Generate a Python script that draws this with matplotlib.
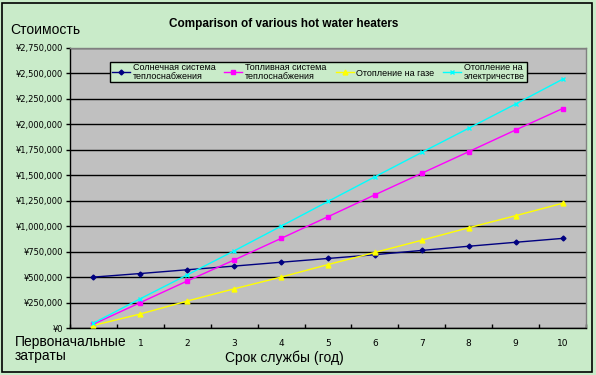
import matplotlib
matplotlib.use("Agg")
import matplotlib.pyplot as plt
from matplotlib.patches import Rectangle
from matplotlib.ticker import FuncFormatter, MultipleLocator, FixedLocator

categories = ["Первоначальные\nзатраты", "1", "2", "3", "4", "5", "6", "7", "8", "9", "10"]
series_names = ["Солнечная система\nтеплоснабжения", "Топливная система\nтеплоснабжения",
                "Отопление на газе", "Отопление на\nэлектричестве"]
solar = [500000, 535000, 572000, 608000, 646000, 683000, 720000, 762000, 803000, 842000, 880000]
fuel = [38000, 250000, 462000, 668000, 880000, 1093000, 1308000, 1520000, 1732000, 1945000, 2155000]
gas = [25000, 138000, 265000, 385000, 500000, 623000, 742000, 862000, 985000, 1103000, 1225000]
electric = [48000, 288000, 522000, 758000, 1000000, 1243000, 1485000, 1725000, 1962000, 2200000, 2443000]

colors = ["#000080", "#FF00FF", "#FFFF00", "#00FFFF"]
markers = ["D", "s", "^", "x"]
msizes = [2.5, 3.5, 3.5, 3]

plt.rcParams['font.family'] = ['Liberation Sans', 'DejaVu Sans']

bg = "#C9EBC9"
fig = plt.figure(figsize=(5.96, 3.75), dpi=100, facecolor=bg)
ax = fig.add_axes([70/596, 1-328/375, 516/596, 280/375])
ax.set_facecolor("#C0C0C0")

x = list(range(len(categories)))
for vals, name, c, m, ms in zip([solar, fuel, gas, electric], series_names, colors, markers, msizes):
    ax.plot(x, vals, color=c, marker=m, markersize=ms, linewidth=1, label=name,
            markeredgewidth=1, zorder=3)

ax.set_xlim(-0.5, 10.5)
ax.set_ylim(0, 2750000)
ax.yaxis.set_major_locator(MultipleLocator(250000))
ax.yaxis.set_major_formatter(FuncFormatter(lambda v, p: "¥{:,.0f}".format(v)))
ax.grid(axis='y', color='black', linewidth=1, zorder=1)
ax.set_axisbelow(True)

ax.xaxis.set_major_locator(FixedLocator([i - 0.5 for i in range(12)]))
ax.set_xticklabels([])
ax.tick_params(axis='x', direction='in', length=3, width=1, color='black')
ax.tick_params(axis='y', direction='out', length=3, width=1, labelsize=6, pad=2)
for lab in ax.get_yticklabels():
    lab.set_family('DejaVu Sans')

for i in range(1, 11):
    ax.text(i, -0.056, categories[i], transform=ax.get_xaxis_transform(),
            ha='center', va='center', fontsize=6.5, family='DejaVu Sans')

for s in ['left', 'bottom']:
    ax.spines[s].set_color('black')
    ax.spines[s].set_linewidth(1)
for s in ['top', 'right']:
    ax.spines[s].set_color('#808080')
    ax.spines[s].set_linewidth(1)

fig.text(15/596, 1-349/375, categories[0], ha='left', va='center', fontsize=10, linespacing=1.0)
fig.text(284/596, 1-358/375, "Срок службы (год)", ha='center', va='center', fontsize=10)
fig.text(10/596, 1-30/375, "Стоимость", ha='left', va='center', fontsize=10)
fig.text(284/596, 1-24/375, "Comparison of various hot water heaters", ha='center',
         va='center', fontsize=8.5, fontweight='bold')

leg = ax.legend(loc='center', bbox_to_anchor=(318.5/596, 1-72/375), bbox_transform=fig.transFigure,
                ncol=4, fontsize=6.5, frameon=True, fancybox=False, framealpha=1,
                edgecolor='black', facecolor=bg, handlelength=2.0, handletextpad=0.3,
                columnspacing=1.0, borderpad=0.2, labelspacing=0.1, borderaxespad=0)
leg.get_frame().set_linewidth(1)
for t in leg.get_texts():
    t.set_linespacing(0.9)

fig.patches.append(Rectangle((2/596, 1-372/375), 590/596, 369/375, transform=fig.transFigure,
                             fill=False, edgecolor='black', linewidth=1.2))

fig.savefig("out.png", dpi=100, facecolor=bg)
